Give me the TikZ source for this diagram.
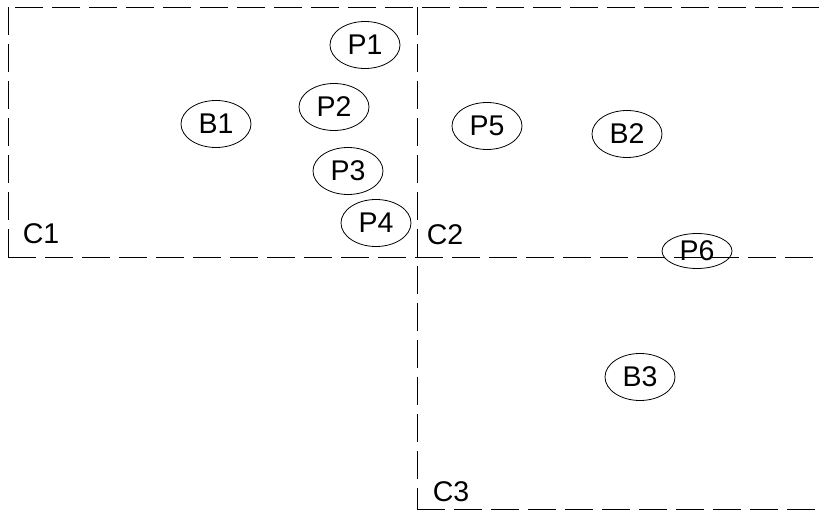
\documentclass[tikz,border=0pt]{standalone}
\usepackage{fontspec}
\setmainfont{Liberation Sans}
\usepackage{tikz}
\usetikzlibrary{shapes.geometric, positioning}

\begin{document}
\begin{tikzpicture}[x=1pt, y=-1pt,
    proc/.style={ellipse, draw, line width=0.8pt, minimum width=70pt, minimum height=47pt, inner sep=0pt, font=\fontsize{28.5}{33}\selectfont},
    border/.style={draw, line width=0.9pt, dash pattern=on 28pt off 9pt},
    lbl/.style={font=\fontsize{28.5}{33}\selectfont, inner sep=0pt}]
  \useasboundingbox (0,0) rectangle (819,510);
  % corners of the three regions
  \coordinate (tl) at (8,7);
  \coordinate (tm) at (417,7);
  \coordinate (tr) at (819,7);
  \coordinate (ml) at (8,257);
  \coordinate (mm) at (417,257);
  \coordinate (mr) at (819,257);
  \coordinate (bm) at (417,509);
  \coordinate (br) at (819,509);
  \draw[border, dash phase=30pt] (tl) -- (tr);
  \draw[border] (tl) -- (ml);
  \draw[border] (ml) -- (mr);
  \draw[border] (tm) -- (bm);
  \draw[border] (bm) -- (br);
  % region names
  \node[lbl] (c1) at (41,234) {C1};
  \node[lbl] (c2) at (445,235) {C2};
  \node[lbl] (c3) at (451,492) {C3};
  % processes and brokers
  \node[proc] (p1) at (365,45) {P1};
  \node[proc] (p2) at (334,107) {P2};
  \node[proc] (b1) at (216,124) {B1};
  \node[proc] (p3) at (348,171) {P3};
  \node[proc] (p4) at (376,223) {P4};
  \node[proc] (p5) at (487,126) {P5};
  \node[proc] (b2) at (627,134) {B2};
  \node[proc, minimum height=35pt] (p6) at (697,251) {P6};
  \node[proc] (b3) at (640,377) {B3};
\end{tikzpicture}
\end{document}
